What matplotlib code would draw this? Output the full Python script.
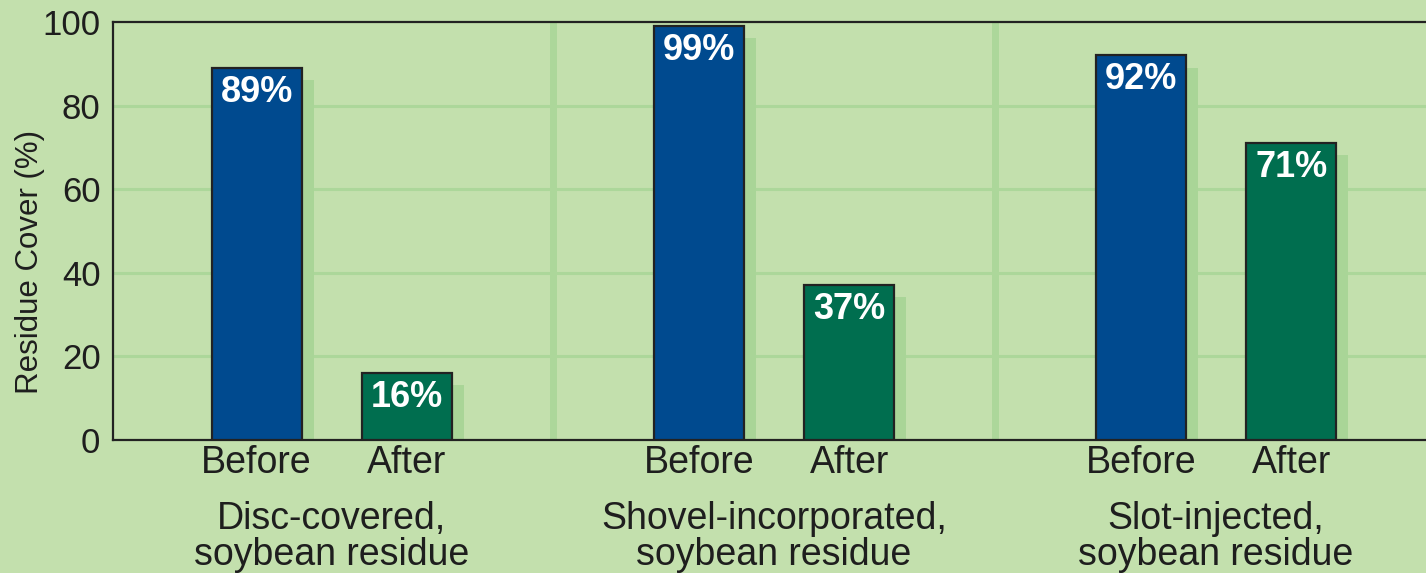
import matplotlib
matplotlib.use("Agg")
import matplotlib.pyplot as plt
import matplotlib.transforms as mtransforms

groups = ["Disc-covered,\nsoybean residue", "Shovel-incorporated,\nsoybean residue", "Slot-injected,\nsoybean residue"]
phases = ["Before", "After"]
before = [89, 99, 92]
after = [16, 37, 71]
yticks = [0, 20, 40, 60, 80, 100]

plt.rcParams['font.family'] = ['Liberation Sans', 'DejaVu Sans']

bg = "#c3e0ad"
grid_c = "#acd79a"
shadow_c = "#a9d597"
blue = "#004a8f"
green = "#006e4f"
txt = "#1e1e1e"

fig = plt.figure(figsize=(14.26, 5.73), dpi=100)
fig.patch.set_facecolor(bg)
ax = fig.add_axes([113/1426, 1-440/573, 1-113/1426, (440-22)/573])
ax.set_facecolor(bg)

off = 0.17
w = 0.204
sx = 0.027
sy = 2.9

for i in range(len(groups)):
    for j, (vals, col) in enumerate([(before, blue), (after, green)]):
        x = i + (-off if j == 0 else off)
        v = vals[i]
        ax.bar(x + sx, v - sy, width=w, color=shadow_c, zorder=2, linewidth=0)
        ax.bar(x, v, width=w, color=col, edgecolor="#222222", linewidth=1.6, zorder=3)
        ax.text(x, v - 1.6, f"{v}%", ha="center", va="top", color="white",
                fontsize=26, fontweight="bold", zorder=4)

for y in yticks[1:-1]:
    ax.axhline(y, color=grid_c, lw=2.2, zorder=1)
for xs in [0.5, 1.5]:
    ax.axvline(xs, color=grid_c, lw=5, zorder=1)

ax.set_xlim(-0.495, 2.475)
ax.set_ylim(0, 100)
ax.set_yticks(yticks)
ax.set_yticklabels([str(t) for t in yticks], fontsize=25, color=txt)
ax.tick_params(axis="y", length=0, pad=9)
ax.set_xticks([])
for s in ["left", "bottom", "top"]:
    ax.spines[s].set_color("#222222")
    ax.spines[s].set_linewidth(1.6)
ax.spines["right"].set_visible(False)

fig.text(30/1426, 1 - 262/573, "Residue Cover (%)", rotation=90, ha="center", va="center",
         fontsize=22.5, color=txt)

trans = mtransforms.blended_transform_factory(ax.transData, fig.transFigure)
for i, g in enumerate(groups):
    ax.text(i - off, 1 - 463/573, phases[0], ha="center", va="center", fontsize=27,
            color=txt, transform=trans)
    ax.text(i + off, 1 - 463/573, phases[1], ha="center", va="center", fontsize=27,
            color=txt, transform=trans)
    ax.text(i, 1 - 537/573, g, ha="center", va="center", fontsize=27,
            color=txt, transform=trans, linespacing=1.0)

fig.savefig("out.png", dpi=100, facecolor=bg)
